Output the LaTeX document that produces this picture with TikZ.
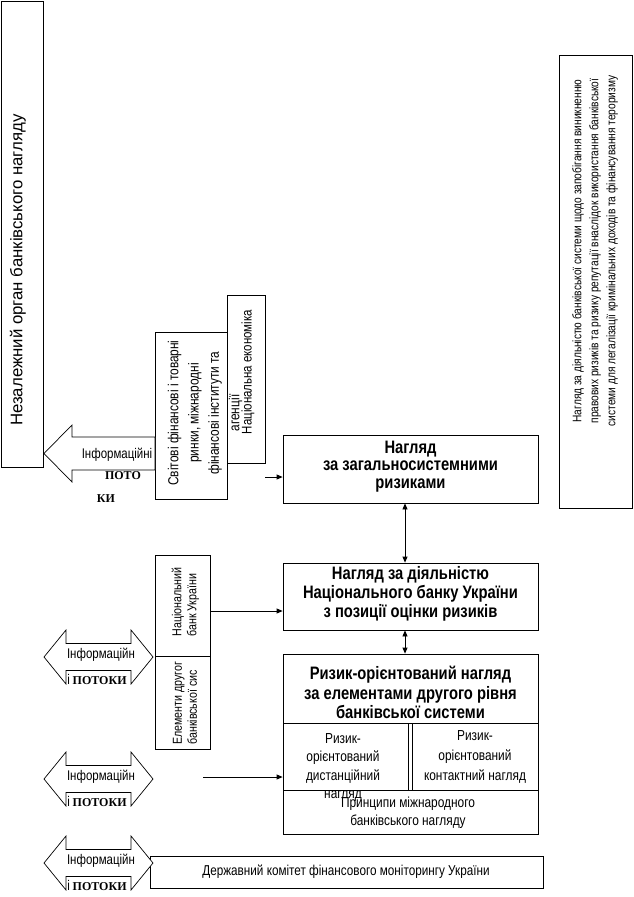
\documentclass[tikz,border=0pt]{standalone}
\usepackage{fontspec}
\setmainfont{Liberation Sans}
\newfontfamily\narrowf[FakeStretch=0.82]{Liberation Sans}
\newfontfamily\serifbf{Liberation Serif}
\usetikzlibrary{arrows.meta}
\tikzset{
  box/.style={draw, rectangle, inner sep=0pt, fill=white},
  txt/.style={inner sep=0pt, align=center},
  arr/.style={-{Triangle[length=6pt,width=5pt]}},
  darr/.style={{Triangle[length=6pt,width=5pt]}-{Triangle[length=6pt,width=5pt]}},
  shapeline/.style={draw, line width=0.7pt},
  bigsans/.style={font=\fontsize{16.8}{19}\selectfont},
  normt/.style={font=\narrowf\fontsize{14.5}{18.5}\selectfont},
  smallt/.style={font=\narrowf\fontsize{12.4}{17}\selectfont},
  infot/.style={font=\narrowf\fontsize{14}{16}\selectfont},
  potoki/.style={font=\serifbf\bfseries\fontsize{12}{14}\selectfont}
}
\begin{document}
\begin{tikzpicture}[x=1pt,y=-1pt,line width=0.8pt]
\useasboundingbox (0,0) rectangle (634,897);

% ---- boxes ----
\node[box, minimum width=42pt, minimum height=466pt] (L) at (22,234) {};
\node[box, minimum width=73pt, minimum height=453pt] (R) at (595.5,281.5) {};
\node[box, minimum width=72pt, minimum height=167pt] (S) at (191,415.5) {};
\node[box, minimum width=38pt, minimum height=168pt] (E) at (246,379) {};
\node[box, minimum width=255pt, minimum height=68pt] (B1) at (410.5,469) {};
\node[box, minimum width=255pt, minimum height=67pt] (B2) at (410.5,596.5) {};
\node[box, minimum width=255pt, minimum height=69pt] (B3) at (410.5,688.5) {};
\node[box, minimum width=125pt, minimum height=67pt] (B4) at (345.5,756.5) {};
\node[box, minimum width=126pt, minimum height=67pt] (B5) at (475,756.5) {};
\node[box, minimum width=255pt, minimum height=44pt] (B6) at (410.5,812) {};
\node[box, minimum width=393pt, minimum height=32pt] (B7) at (346.5,872) {};
\node[box, minimum width=55pt, minimum height=101pt] (N1) at (182.5,605.5) {};
\node[box, minimum width=55pt, minimum height=93pt] (N2) at (182.5,702.5) {};

% ---- information-flow arrows (outline shapes) ----
\path[shapeline, fill=white] (44,453.5) -- (72,425) -- (72,437) -- (155,437) -- (155,470) -- (72,470) -- (72,482) -- cycle;
\path[shapeline, fill=white] (44,657) -- (66,630) -- (66,643.5) -- (131,643.5) -- (131,630) -- (153,657) -- (131,684) -- (131,670.5) -- (66,670.5) -- (66,684) -- cycle;
\path[shapeline, fill=white] (44,779) -- (66,752) -- (66,765.5) -- (131,765.5) -- (131,752) -- (153,779) -- (131,806) -- (131,792.5) -- (66,792.5) -- (66,806) -- cycle;
\path[shapeline, fill=white] (44,863) -- (66,836) -- (66,849.5) -- (131,849.5) -- (131,836) -- (153,863) -- (131,890) -- (131,876.5) -- (66,876.5) -- (66,890) -- cycle;

% ---- texts ----
\node[txt, bigsans, rotate=90] (Lt) at (18,270) {Незалежний орган банківського нагляду};
\node[txt, smallt, rotate=90] (Rt) at (595,251) {Нагляд за діяльністю банківської системи щодо запобігання виникненню\\правових ризиків та ризику репутації внаслідок використання банківської\\системи для легалізації кримінальних доходів та фінансування тероризму};
\node[txt, rotate=90, font=\narrowf\fontsize{14.5}{20.3}\selectfont] (St) at (205,413) {Світові фінансові і товарні\\ринки, міжнародні\\фінансові інститути та\\агенції};
\node[txt, infot, rotate=90] (Et) at (248,372) {Національна економіка};
\node[txt, font=\narrowf\bfseries\fontsize{18}{17.5}\selectfont] (B1t) at (410.5,466.5) {Нагляд\\за загальносистемними\\ризиками};
\node[txt, font=\narrowf\bfseries\fontsize{18}{19}\selectfont] (B2t) at (410.5,594) {Нагляд за діяльністю\\Національного банку України\\з позиції оцінки ризиків};
\node[txt, font=\narrowf\bfseries\fontsize{18}{19.5}\selectfont] (B3t) at (410.5,692.5) {Ризик-орієнтований нагляд\\за елементами другого рівня\\банківської системи};
\node[txt, normt] (B4t) at (343,767.5) {Ризик-\\орієнтований\\дистанційний\\нагляд};
\node[txt, font=\narrowf\fontsize{14.5}{20}\selectfont] (B5t) at (475,757) {Ризик-\\орієнтований\\контактний нагляд};
\node[txt, normt] (B6t) at (408,812.5) {Принципи міжнародного\\банківського нагляду};
\node[txt, font=\narrowf\fontsize{14.3}{16}\selectfont] (B7t) at (346,872) {Державний комітет фінансового моніторингу України};
\node[txt, rotate=90, anchor=west, align=left, font=\narrowf\fontsize{13}{15}\selectfont] (N1t) at (185.5,637) {Національний\\банк України};
\node[txt, rotate=90, anchor=west, align=left, font=\narrowf\fontsize{13}{15}\selectfont] (N2t) at (185,745) {Елементи другог\\банківської сис};

\node[txt, infot] (A0t) at (117,455) {Інформаційні};
\node[txt, potoki] (A0p1) at (123,476) {ПОТО};
\node[txt, potoki] (A0p2) at (106,499) {КИ};
\node[txt, infot] (A1t) at (101,655) {Інформаційн};
\node[txt] (A1p) at (97,679) {{\narrowf\fontsize{14}{16}\selectfont і} {\serifbf\bfseries\fontsize{12}{14}\selectfont ПОТОКИ}};
\node[txt, infot] (A2t) at (101,777) {Інформаційн};
\node[txt] (A2p) at (97,801) {{\narrowf\fontsize{14}{16}\selectfont і} {\serifbf\bfseries\fontsize{12}{14}\selectfont ПОТОКИ}};
\node[txt, infot] (A3t) at (101,861) {Інформаційн};
\node[txt] (A3p) at (97,885) {{\narrowf\fontsize{14}{16}\selectfont і} {\serifbf\bfseries\fontsize{12}{14}\selectfont ПОТОКИ}};

% ---- connectors ----
\coordinate (c1) at (265,477);
\draw[arr] (c1) -- (B1.west |- c1);
\draw[darr] (405,0 |- B1.south) -- (405,0 |- B2.north);
\draw[arr] (N1.east |- 0,611) -- (B2.west |- 0,611);
\draw[darr] (405,0 |- B2.south) -- (405,0 |- B3.north);
\coordinate (c2) at (203,777);
\draw[arr] (c2) -- (B4.west |- c2);
\end{tikzpicture}
\end{document}
